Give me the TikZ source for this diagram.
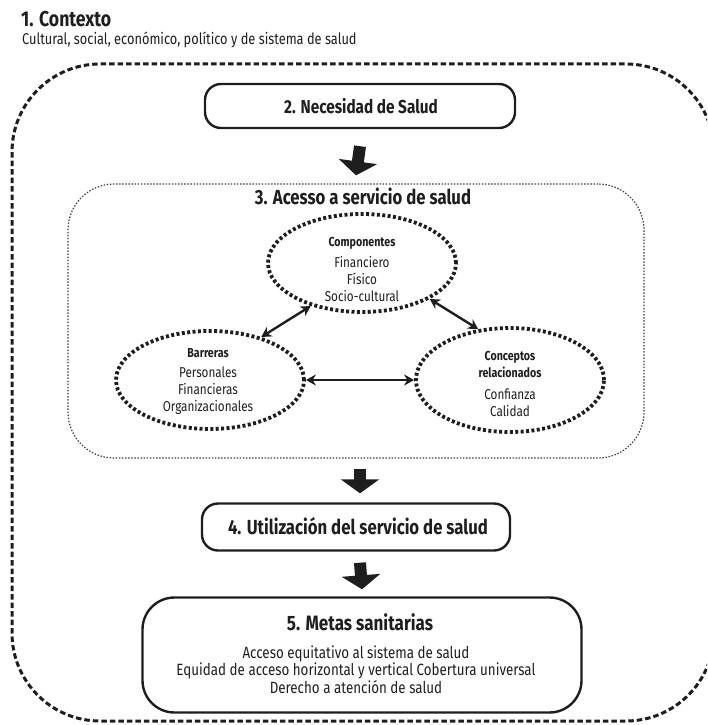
\documentclass[tikz,border=0pt]{standalone}
\usepackage{fontspec}
\setmainfont{Fira Sans}[FakeStretch=0.82]
\usetikzlibrary{shapes.geometric,arrows.meta}
\definecolor{ink}{HTML}{1E1E1E}
\tikzset{
  mainbox/.style={draw=ink, line width=2.4pt, rounded corners=16pt, inner sep=0pt},
  goalbox/.style={draw=ink, line width=2.4pt, rounded corners=32pt, inner sep=0pt},
  ovalnode/.style={ellipse, draw=ink, line width=3.8pt, dash pattern=on 3pt off 2.4pt,
    minimum width=188pt, minimum height=98pt, inner sep=0pt},
  ovaltext/.style={align=center, inner sep=0pt, anchor=base,
    font=\fontsize{14.3}{17}\selectfont, text=ink},
  ovalhead/.style={align=center, inner sep=0pt, anchor=base,
    font=\bfseries\fontsize{13}{17}\selectfont, text=ink},
  heading/.style={inner sep=0pt, anchor=base, font=\bfseries\fontsize{20.4}{22}\selectfont, text=ink},
  flowarrow/.style={draw=ink, line width=12pt, -{Triangle[width=38pt,length=14pt]}},
  linkarrow/.style={draw=ink, line width=2.4pt, {Stealth[length=10pt,width=11pt]}-{Stealth[length=10pt,width=11pt]}},
}
\begin{document}
\begin{tikzpicture}[x=1pt,y=-1pt]
\useasboundingbox (0,0) rectangle (707,725);
\clip (0,0) rectangle (707,725);

% context heading
\node[anchor=base west, inner sep=0pt, font=\bfseries\fontsize{21.5}{23}\selectfont, text=ink] (ctx) at (21,27) {1. Contexto};
\node[anchor=base west, inner sep=0pt, font=\fontsize{15.6}{17}\selectfont, text=ink] (ctxsub) at (22,45) {Cultural, social, económico, político y de sistema de salud};

% outer context frame
\draw[ink, line width=3pt, dash pattern=on 5.5pt off 3pt, rounded corners=88pt]
  (12,64) rectangle (714,721);

% 2. need
\node[mainbox, minimum width=310pt, minimum height=44pt] (need) at (360,106) {};
\node[heading, font=\bfseries\fontsize{18.7}{20}\selectfont] (needtxt) at (361,113) {2. Necesidad de Salud};

% 3. access frame
\node[draw=ink!85, line width=1.2pt, dash pattern=on 1.5pt off 1.6pt, rounded corners=46pt,
      minimum width=576pt, minimum height=274pt, inner sep=0pt] (access) at (356,321) {};
\node[heading] (acctitle) at (363,204) {3. Acesso a servicio de salud};

% access ellipses (multi-line texts are placed by the baseline of their last line)
\node[ovalnode] (comp) at (362,263) {};
\node[ovalhead] (comph) at (362,246) {Componentes};
\node[ovaltext] (compt) at (362,301) {Financiero\\Físico\\Socio-cultural};

\node[ovalnode] (barr) at (210,380) {};
\node[ovalhead] (barrh) at (208,357) {Barreras};
\node[ovaltext] (barrt) at (208,411) {Personales\\Financieras\\Organizacionales};

\node[ovalnode, minimum height=104pt] (conc) at (510,380) {};
\node[ovalhead] (conch) at (510,377) {Conceptos\\relacionados};
\node[ovaltext] (conct) at (510,416) {Confianza\\Calidad};

\draw[linkarrow] (comp.-140) -- (barr.40);
\draw[linkarrow] (comp.-28) -- (conc.122);
\draw[linkarrow] (barr.east) -- (conc.west);

% 4. utilisation
\node[mainbox, minimum width=308pt, minimum height=47pt] (use) at (356,527) {};
\node[heading] (usetxt) at (358,534) {4. Utilización del servicio de salud};

% 5. goals
\node[goalbox, minimum width=439pt, minimum height=115pt] (goals) at (362,655) {};
\node[heading, font=\bfseries\fontsize{20.8}{22}\selectfont] (goaltitle) at (360,630) {5. Metas sanitarias};
\node[ovaltext, font=\fontsize{16.3}{17.5}\selectfont] (goallist) at (356,693)
  {Acceso equitativo al sistema de salud\\Equidad de acceso horizontal y vertical Cobertura universal\\Derecho a atención de salud};

% flow arrows
\draw[flowarrow] ([yshift=-17pt]need.south) -- ([yshift=8pt]access.north);
\draw[flowarrow] ([xshift=4pt,yshift=-10pt]access.south) -- ([xshift=4pt,yshift=9pt]use.north);
\draw[flowarrow] ([xshift=4pt,yshift=-11pt]use.south) -- ([yshift=7pt]goals.north);
\end{tikzpicture}
\end{document}
